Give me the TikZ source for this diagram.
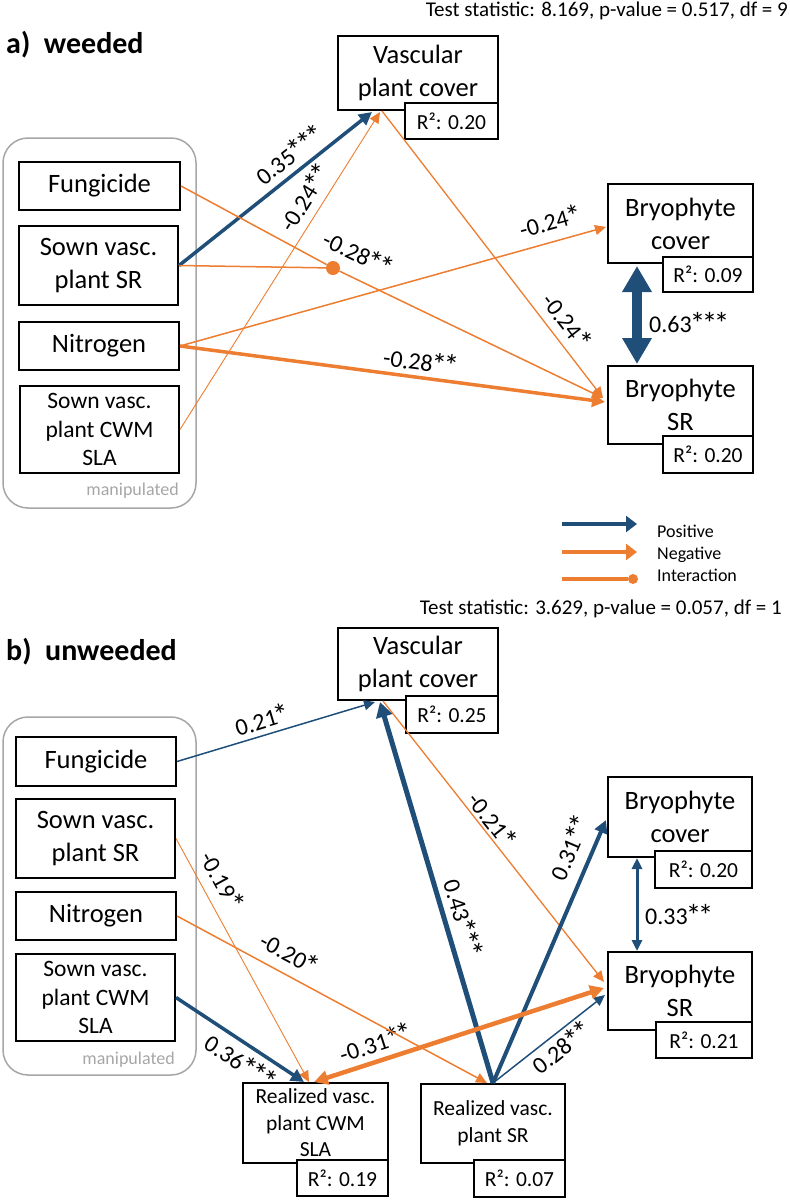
\documentclass[tikz,border=0pt]{standalone}
\usepackage{fontspec}
\setmainfont{Carlito}
\usetikzlibrary{arrows.meta,calc}
\definecolor{myblue}{HTML}{1F4E79}
\definecolor{myorange}{HTML}{ED7D31}
\definecolor{mygray}{HTML}{A6A6A6}
\newcommand{\bxf}{\fontsize{26.5}{33}\selectfont}
\newcommand{\slaf}{\fontsize{23.5}{28.5}\selectfont}
\newcommand{\rlf}{\fontsize{21.5}{26.5}\selectfont}
\newcommand{\rsqf}{\fontsize{21.5}{26}\selectfont}
\newcommand{\lbf}{\fontsize{24}{28}\selectfont}
\newcommand{\ttf}{\fontsize{21}{25}\selectfont}
\newcommand{\lgf}{\fontsize{18}{22}\selectfont}
\newcommand{\mnf}{\fontsize{18}{22}\selectfont}
\newcommand{\hdf}{\fontsize{30}{36}\selectfont\bfseries}
\newcommand{\sa}{\makebox[0.5em]{\raisebox{-0.1em}{\scalebox{1.3}{*}}}}
\begin{document}
\begin{tikzpicture}[x=1pt,y=-1pt,
  box/.style={draw=black, line width=2pt, inner sep=0pt, align=center, font=\bxf},
  slabox/.style={box, font=\slaf},
  realbox/.style={box, font=\rlf},
  rsq/.style={draw=black, line width=1.5pt, fill=white, inner sep=0pt, font=\rsqf},
  manip/.style={draw=mygray, line width=1.5pt, rounded corners=25pt, inner sep=0pt},
  posE/.style={draw=myblue},
  negE/.style={draw=myorange},
  tipS/.style={-{Triangle[length=11pt,width=10pt]}},
  tipM/.style={-{Triangle[length=13pt,width=13pt]}},
  tipL/.style={-{Triangle[length=15pt,width=16pt]}},
  lab/.style={font=\lbf, sloped},
  plain/.style={inner sep=0pt}
]
\useasboundingbox (0,0) rectangle (790,1200);

% ---------------- panel a ----------------
\node[plain, font=\hdf, anchor=base west] (ttlA) at (6,53) {a)\ \ weeded};
\node[plain, font=\ttf, anchor=base east] (tsA) at (788,16) {Test statistic: 8.169, p-value = 0.517, df = 9};

\node[box, minimum width=160pt, minimum height=74pt] (vca) at (418,73) {Vascular\\plant cover};
\node[rsq, minimum width=93pt, minimum height=36pt] (vcaR) at (451.5,121) {R²: 0.20};

\node[manip, minimum width=193pt, minimum height=370pt] (manA) at (99.5,323) {};
\node[box, minimum width=161pt, minimum height=48pt] (fungA) at (99.5,186) {Fungicide};
\node[box, minimum width=159pt, minimum height=79pt] (ssrA) at (98.5,265.5) {Sown vasc.\\plant SR};
\node[box, minimum width=160pt, minimum height=48pt] (nitA) at (99,346) {Nitrogen};
\node[slabox, minimum width=159pt, minimum height=87pt] (slaA) at (99.5,429.5) {Sown vasc.\\plant CWM\\SLA};
\node[plain, font=\mnf, text=mygray, anchor=base east] (manTA) at (179,495) {manipulated};

\node[box, minimum width=145pt, minimum height=79pt] (bcA) at (680.5,223.5) {Bryophyte\\cover};
\node[rsq, minimum width=90pt, minimum height=35pt] (bcAR) at (708,274.5) {R²: 0.09};
\node[box, minimum width=145pt, minimum height=78pt] (bsrA) at (680.5,405) {Bryophyte\\SR};
\node[rsq, minimum width=90pt, minimum height=37pt] (bsrAR) at (708,454.5) {R²: 0.20};

\node[circle, fill=myorange, inner sep=0pt, minimum size=14pt] (intA) at (333,268) {};

\draw[posE, tipM, line width=3.5pt] (ssrA.east) -- node[lab, above, inner sep=4.5pt, pos=0.63] {0.35\sa\sa\sa} ($(vca.south west)+(35,1)$);
\draw[negE, tipS, line width=0.9pt] (slaA.east) -- node[lab, above, inner sep=6pt, pos=0.70] {-0.24\sa\sa} ($(vca.south west)+(43,1)$);
\draw[negE, line width=1.5pt] (fungA.east) -- (intA);
\draw[negE, line width=1.5pt] (ssrA.east) -- (intA);
\draw[negE, tipS, line width=1.5pt] (intA) -- node[lab, above, inner sep=12pt, pos=0.03] {-0.28\sa\sa} ($(bsrA.west)+(-4,-7)$);
\draw[negE, tipS, line width=1.3pt] ($(vca.south west)+(45,0)$) -- node[lab, above, inner sep=6.5pt, pos=0.77] {-0.24\sa} ($(bsrA.west)+(-4,-7)$);
\draw[negE, tipS, line width=1.5pt] (nitA.east) -- node[lab, above, inner sep=8pt, pos=0.88] {-0.24\sa} ($(bcA.west)+(-1,3.5)$);
\draw[negE, tipM, line width=3.5pt] (nitA.east) -- node[lab, above, inner sep=3pt, pos=0.56] {-0.28\sa\sa} ($(bsrA.west)+(-2,-3)$);
\draw[posE, line width=10pt, {Triangle[length=26pt,width=28pt]}-{Triangle[length=26pt,width=28pt]}] ($(bcA.south west)+(30,2)$) -- ($(bsrA.north west)+(30,-1)$);
\node[plain, font=\lbf, anchor=base west] (l063) at (649,332) {0.63\sa\sa\sa};

% ---------------- legend ----------------
\coordinate (lgP1) at (562,524); \coordinate (lgP2) at (637,524);
\coordinate (lgN1) at (562,552); \coordinate (lgN2) at (637,552);
\coordinate (lgI1) at (562,579);
\node[circle, fill=myorange, inner sep=0pt, minimum size=10pt] (lgDot) at (633,579) {};
\draw[posE, line width=4pt, -{Triangle[length=11pt,width=16pt]}] (lgP1) -- (lgP2);
\draw[negE, line width=4pt, -{Triangle[length=11pt,width=16pt]}] (lgN1) -- (lgN2);
\draw[negE, line width=4pt] (lgI1) -- (lgDot);
\node[plain, font=\lgf, anchor=base west] (lgTP) at (657,537) {Positive};
\node[plain, font=\lgf, anchor=base west] (lgTN) at (657,559) {Negative};
\node[plain, font=\lgf, anchor=base west] (lgTI) at (657,581) {Interaction};

% ---------------- panel b ----------------
\node[plain, font=\hdf, anchor=base west] (ttlB) at (6,660) {b)\ \ unweeded};
\node[plain, font=\ttf, anchor=base east] (tsB) at (782,614) {Test statistic: 3.629, p-value = 0.057, df = 1};

\node[box, minimum width=160pt, minimum height=72pt] (vcb) at (418,664) {Vascular\\plant cover};
\node[rsq, minimum width=92pt, minimum height=37pt] (vcbR) at (452,714.5) {R²: 0.25};

\node[manip, minimum width=193pt, minimum height=358pt] (manB) at (99.5,896) {};
\node[box, minimum width=160pt, minimum height=49pt] (fungB) at (96,761.5) {Fungicide};
\node[box, minimum width=159pt, minimum height=79pt] (ssrB) at (95.5,838.5) {Sown vasc.\\plant SR};
\node[box, minimum width=160pt, minimum height=48pt] (nitB) at (96,916) {Nitrogen};
\node[slabox, minimum width=159pt, minimum height=87pt] (slaB) at (95.5,997.5) {Sown vasc.\\plant CWM\\SLA};
\node[plain, font=\mnf, text=mygray, anchor=base east] (manTB) at (175,1064) {manipulated};

\node[box, minimum width=144pt, minimum height=80pt] (bcB) at (680,817) {Bryophyte\\cover};
\node[rsq, minimum width=97pt, minimum height=37pt] (bcBR) at (703.5,869.5) {R²: 0.20};
\node[box, minimum width=144pt, minimum height=78pt] (bsrB) at (680,991) {Bryophyte\\SR};
\node[rsq, minimum width=96pt, minimum height=36pt] (bsrBR) at (704,1040) {R²: 0.21};

\node[realbox, minimum width=145pt, minimum height=80pt] (rslaB) at (315.5,1123) {Realized vasc.\\plant CWM\\SLA};
\node[rsq, minimum width=91pt, minimum height=36pt] (rslaBR) at (342.5,1178) {R²: 0.19};
\node[realbox, minimum width=144pt, minimum height=79pt] (rsrB) at (493,1123.5) {Realized vasc.\\plant SR};
\node[rsq, minimum width=91pt, minimum height=37pt] (rsrBR) at (519.5,1178.5) {R²: 0.07};

\draw[posE, tipS, line width=1.5pt] (fungB.east) -- node[lab, above, inner sep=3pt, pos=0.45] {0.21\sa} ($(vcb.south west)+(38,1)$);
\draw[negE, tipS, line width=1.3pt] ($(vcb.south west)+(46,0)$) -- node[lab, above, inner sep=0.5pt, pos=0.45] {-0.21\sa} ($(bsrB.west)+(-3,-9)$);
\draw[posE, tipL, line width=5pt] (rsrB.north) -- node[lab, above, inner sep=4pt, pos=0.42] {0.43\sa\sa\sa} ($(vcb.south west)+(43,1)$);
\draw[posE, tipM, line width=4pt] (rsrB.north) -- node[lab, above, inner sep=9pt, pos=0.86] {0.31\sa\sa} ($(bcB.west)+(-1,3)$);
\draw[posE, tipS, line width=1.5pt] (rsrB.north) -- node[lab, below, inner sep=3pt, pos=0.53] {0.28\sa\sa} ($(bsrB.west)+(-2,4)$);
\draw[negE, line width=4.5pt, {Triangle[length=14pt,width=14pt]}-{Triangle[length=14pt,width=14pt]}] ($(rslaB.north west)+(72,0)$) -- node[lab, above, inner sep=4.5pt, pos=0.23] {-0.31\sa\sa} ($(bsrB.west)+(-3,-3)$);
\draw[negE, tipS, line width=0.9pt] (ssrB.east) -- node[lab, above, inner sep=8.5pt, pos=0.21] {-0.19\sa} ($(rslaB.north west)+(67,0)$);
\draw[negE, tipS, line width=1.5pt] (nitB.east) -- node[lab, above, inner sep=8.5pt, pos=0.33] {-0.20\sa} ($(rsrB.north)+(-6,0)$);
\draw[posE, tipM, line width=3.5pt] (slaB.east) -- node[lab, below, inner sep=6pt, pos=0.58] {0.36\sa\sa\sa} ($(rslaB.north west)+(62,0)$);
\draw[posE, line width=3pt, {Triangle[length=11pt,width=10pt]}-{Triangle[length=11pt,width=10pt]}] ($(bcB.south west)+(30,0)$) -- ($(bsrB.north west)+(30,0)$);
\node[plain, font=\lbf, anchor=base west] (l033) at (645,924) {0.33\sa\sa};
\end{tikzpicture}
\end{document}
